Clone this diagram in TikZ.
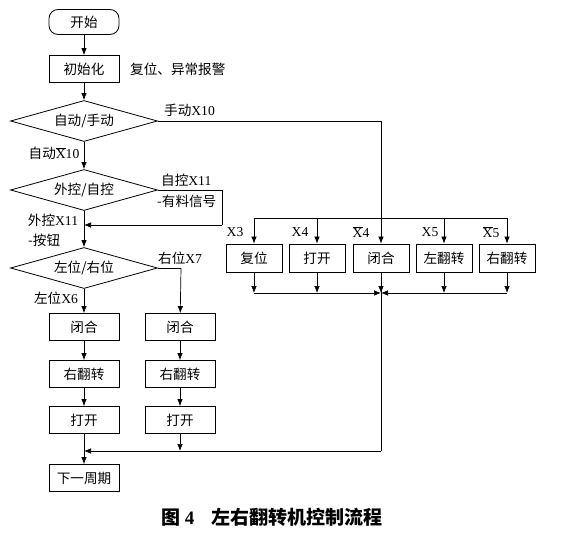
\documentclass[tikz,border=0pt]{standalone}
\usepackage{fontspec}
\setmainfont{Liberation Serif}
\newfontfamily\zh{Noto Sans CJK SC}
\usetikzlibrary{shapes.geometric,arrows.meta}

\tikzset{
  every node/.style={font=\zh\fontsize{13.6}{15}\selectfont},
  line/.style={line width=0.7pt},
  arr/.style={line, -{Latex[length=7pt,width=5.5pt]}},
  box/.style={draw, line width=0.8pt, minimum width=70pt, minimum height=27pt, inner sep=0pt},
  sbox/.style={box, minimum width=56pt, minimum height=28pt},
  term/.style={box, rounded corners=9pt, minimum height=25pt},
  dec/.style={draw, line width=0.8pt, diamond, aspect=3.6, inner sep=0pt,
    minimum width=147pt, minimum height=41pt},
  lbl/.style={inner sep=1pt}
}
\newcommand{\tnr}{\fontspec{Liberation Serif}}
\newcommand{\xbar}{$\overline{\mbox{X}}$}

\begin{document}
\begin{tikzpicture}[x=1pt,y=-1pt]
    \useasboundingbox (0,0) rectangle (564,535);

    % main column
    \node[term] (start) at (84,22) {开始};
    \node[box] (init) at (84,69) {初始化};
    \node[lbl, anchor=west] (initnote) at (129,69) {复位、异常报警};
    \node[dec] (mode) at (84,121) {自动/手动};
    \node[dec] (ctrl) at (84,190) {外控/自控};
    \node[dec] (side) at (84,268) {左位/右位};

    % left branch
    \node[box] (lclose) at (84,327) {闭合};
    \node[box] (lturn) at (84,374) {右翻转};
    \node[box] (lopen) at (84,420) {打开};
    \node[box] (next) at (84,478) {下一周期};

    % right branch
    \node[box] (rclose) at (180,327) {闭合};
    \node[box] (rturn) at (180,374) {右翻转};
    \node[box] (ropen) at (180,420) {打开};

    % manual row
    \node[sbox] (m1) at (254,258) {复位};
    \node[sbox] (m2) at (317,258) {打开};
    \node[sbox] (m3) at (381,258) {闭合};
    \node[sbox] (m4) at (444,258) {左翻转};
    \node[sbox] (m5) at (507,258) {右翻转};

    \coordinate (mtop) at (381,121);
    \coordinate (bus) at (254,218);
    \coordinate (busr) at (507,218);
    \coordinate (bot) at (254,293);
    \coordinate (botr) at (507,293);
    \coordinate (sig) at (222,190);
    \coordinate (sigin) at (222,225);
    \coordinate (rside) at (181,268);
    \coordinate (merge) at (381,451);

    % connectors
    \draw[arr] (start) -- (init);
    \draw[arr] (init) -- (mode);
    \draw[arr] (mode.south) -- (ctrl.north);
    \draw[arr] (ctrl.south) -- (side.north);
    \draw[arr] (side.south) -- (lclose);
    \draw[arr] (lclose) -- (lturn);
    \draw[arr] (lturn) -- (lopen);
    \draw[arr] (lopen) -- (next);
    \draw[line] (side.east) -- (rside);
    \draw[arr] (rside) -- (rclose);
    \draw[arr] (rclose) -- (rturn);
    \draw[arr] (rturn) -- (ropen);
    \draw[arr] (ropen) -- (ropen.south |- merge);
    \draw[line] (ctrl.east) -- (sig) -- (sigin);
    \draw[arr] (sigin) -- (sigin -| ctrl.south);
    \draw[line] (mode.east) -- (mtop);
    \draw[arr] (mtop) -- (m3.north);
    \draw[line] (bus) -- (busr);
    \foreach \i in {1,2,4,5}
        \draw[arr] (m\i.north |- bus) -- (m\i.north);
    \foreach \i in {1,2,3,4,5}
        \draw[arr] (m\i.south) -- (m\i.south |- bot);
    \draw[arr] (bot) -- (bot -| m3.south);
    \draw[arr] (botr) -- (botr -| m3.south);
    \draw[line] (m3.south) -- (merge);
    \draw[arr] (merge) -- (merge -| lopen.south);

    % branch labels
    \node[lbl, anchor=west] at (163,110) {手动{\tnr X10}};
    \node[lbl] at (54,153) {自动{\tnr\xbar10}};
    \node[lbl, anchor=west] at (160,180) {自控{\tnr X11}};
    \node[lbl, anchor=west] at (156,201) {-有料信号};
    \node[lbl] at (53,220) {外控{\tnr X11}};
    \node[lbl, anchor=west] at (27,240) {-按钮};
    \node[lbl, anchor=west] at (157,258) {右位{\tnr X7}};
    \node[lbl] at (56,298) {左位{\tnr X6}};
    \foreach \x/\t in {235/X3, 300/X4, 361/\xbar4, 430/X5, 491/\xbar5}
        \node[lbl] at (\x,232) {\tnr\t};

    % caption
    \node[font=\zh\bfseries\fontsize{19}{21}\selectfont] (cap) at (272,517)
        {图 {\tnr\bfseries 4}\hspace{17pt}左右翻转机控制流程};
\end{tikzpicture}
\end{document}
